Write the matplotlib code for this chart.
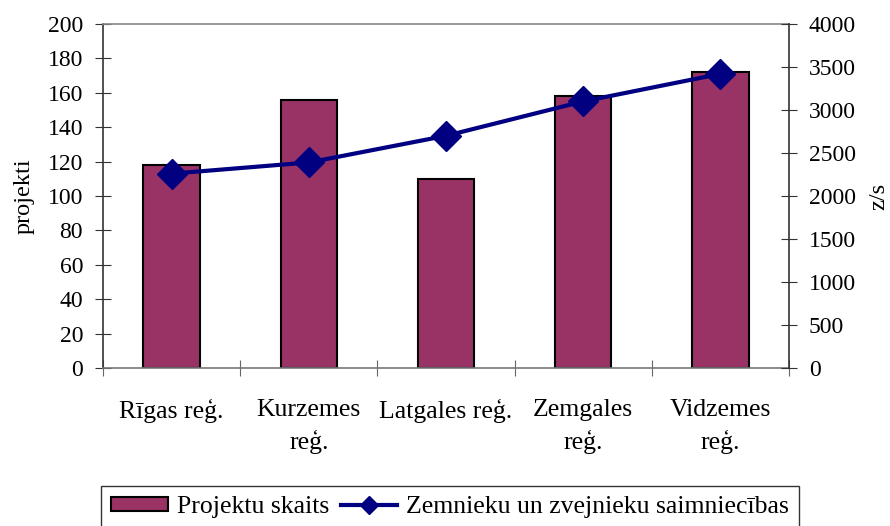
import matplotlib.pyplot as plt
import numpy as np

plt.rcParams["font.family"] = ["Liberation Serif", "DejaVu Serif"]

regioni = ["Rīgas reģ.", "Kurzemes\nreģ.", "Latgales reģ.", "Zemgales\nreģ.", "Vidzemes\nreģ."]
projekti = [118, 156, 110, 158, 172]
saimniecibas = [2260, 2390, 2700, 3100, 3420]

BAR_C = "#993366"
LINE_C = "#000080"
FS_TXT = 18.5
FS_NUM = 17

fig = plt.figure(figsize=(8.9, 5.26), dpi=100)
ax = fig.add_axes([103 / 890, 1 - 368 / 526, 686 / 890, 344 / 526])
x = np.arange(len(regioni))

bars = ax.bar(x, projekti, width=0.41, color=BAR_C, edgecolor="black", linewidth=1.5,
              label="Projektu skaits", zorder=2)
ax.set_xlim(-0.5, len(regioni) - 0.5)
ax.set_ylim(0, 200)
ax.set_yticks(range(0, 201, 20))
# major ticks sit between categories, labels on minor ticks at bar centers
ax.set_xticks(np.arange(-0.5, len(regioni), 1.0))
ax.set_xticklabels([])
ax.set_xticks(x, minor=True)
ax.set_xticklabels(regioni, minor=True, fontsize=FS_TXT, linespacing=1.5)
ax.tick_params(axis="x", which="minor", length=0, pad=22)
ax.tick_params(axis="x", which="major", direction="inout", length=12, color="#666666")
ax.tick_params(axis="y", direction="inout", length=11.5, labelsize=FS_NUM, pad=8.6, color="#333333")
ax.set_ylabel("projekti", fontsize=17.5)
ax.yaxis.set_label_coords(-0.1, 0.5)

ax.spines["top"].set_color("#888888")
ax.spines["bottom"].set_color("#777777")
ax.spines["left"].set_color("#333333")
ax.spines["right"].set_visible(False)
for s in ax.spines.values():
    s.set_linewidth(1.2)

ax2 = ax.twinx()
ax2.plot(x, saimniecibas, color=LINE_C, linewidth=3, marker="D", markersize=15,
         label="Zemnieku un zvejnieku saimniecības", zorder=3)
ax2.set_ylim(0, 4000)
ax2.set_yticks(range(0, 4001, 500))
ax2.tick_params(axis="y", direction="inout", length=11.5, labelsize=FS_NUM, pad=8.6, color="#333333")
ax2.set_ylabel("z/s", fontsize=17.5)
ax2.yaxis.set_label_coords(1.115, 0.5)
ax2.spines["right"].set_color("#333333")
ax2.spines["right"].set_linewidth(1.2)
for s in ["top", "left", "bottom"]:
    ax2.spines[s].set_visible(False)

leg_line = plt.Line2D([], [], color=LINE_C, linewidth=3, marker="D", markersize=8.7)
leg = fig.legend([bars, leg_line], ["Projektu skaits", "Zemnieku un zvejnieku saimniecības"],
                 loc="upper left", bbox_to_anchor=(101 / 890, 1 - 486 / 526), ncol=2,
                 fontsize=FS_TXT, frameon=True, fancybox=False, edgecolor="black",
                 handlelength=2.2, handleheight=0.5, handletextpad=0.35, columnspacing=0.45,
                 borderpad=0.4, borderaxespad=0)
leg.get_frame().set_linewidth(1.0)

fig.savefig("out.png", dpi=100)
